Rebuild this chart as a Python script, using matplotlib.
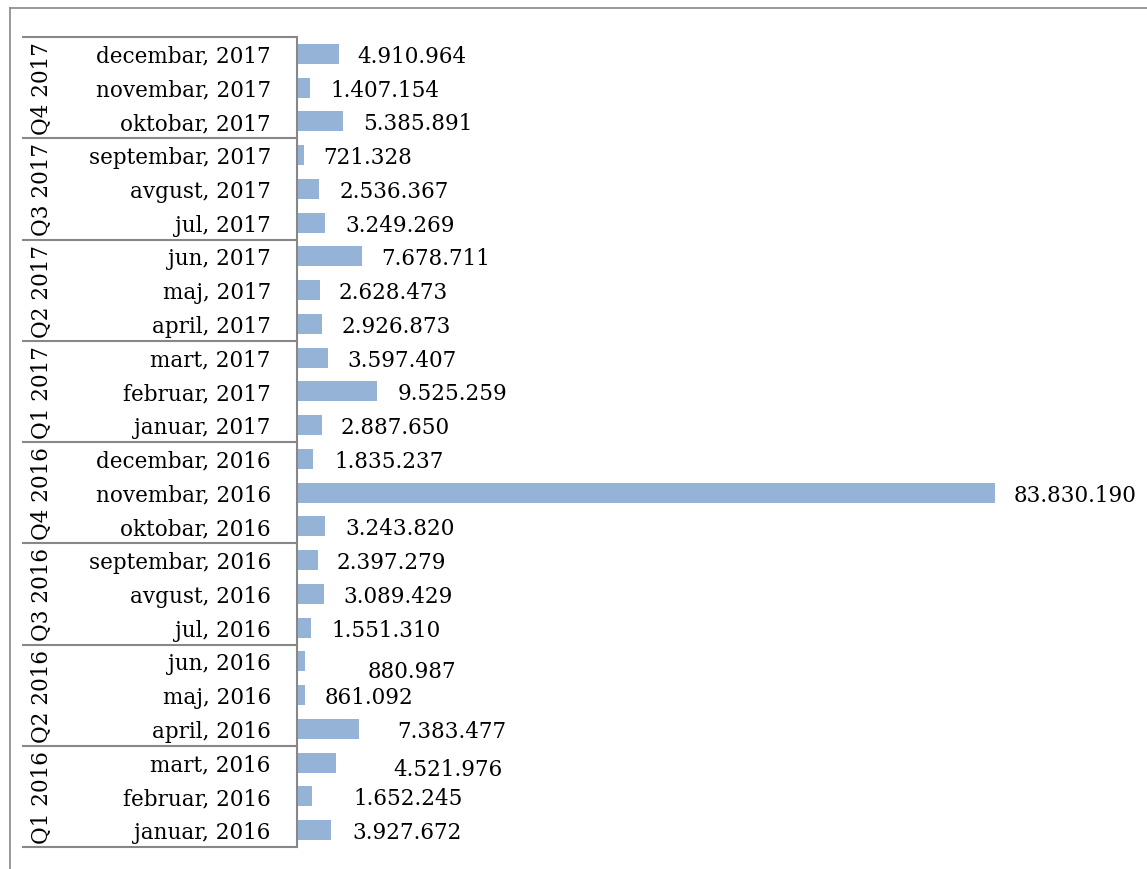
import matplotlib
matplotlib.use("Agg")
import matplotlib.pyplot as plt
from matplotlib.lines import Line2D
from matplotlib.transforms import ScaledTranslation

# data, chronological (bottom of chart = januar 2016)
months = ["januar", "februar", "mart", "april", "maj", "jun",
          "jul", "avgust", "septembar", "oktobar", "novembar", "decembar"]
years = [2016, 2017]
quarters = ["Q1 2016", "Q2 2016", "Q3 2016", "Q4 2016",
            "Q1 2017", "Q2 2017", "Q3 2017", "Q4 2017"]
values = [3927672, 1652245, 4521976, 7383477, 861092, 880987,
          1551310, 3089429, 2397279, 3243820, 83830190, 1835237,
          2887650, 9525259, 3597407, 2926873, 2628473, 7678711,
          3249269, 2536367, 721328, 5385891, 1407154, 4910964]

# label placement quirks copied from the original (pixels)
label_gap = [22, 42, 58, 38, 19, 62, 21, 20, 19, 20, 19, 21,
             19, 20, 19, 19, 19, 19, 20, 20, 19, 20, 21, 19]
label_dy = [0, 0, 4, 0, 0, 8, 0, 0, 0, 0, 0, 0,
            0, 0, 0, 0, 0, 0, 0, 0, 0, 0, 0, 0]

labels = [m + ", " + str(y) for y in years for m in months]

W, H = 1147, 870
bar_color = "#95b3d7"
line_color = "#878787"
font = "DejaVu Serif"
fs = 15.5

fig = plt.figure(figsize=(W / 100, H / 100), dpi=100)

top, bottom = 38, 848
n = len(values)

ax = fig.add_axes([298 / W, (H - bottom) / H, (W - 298) / W, (bottom - top) / H])
ax.set_xlim(0, max(values) * (W - 298) / (995 - 298))
ax.set_ylim(-0.5, n - 0.5)
ax.axis("off")
ax.barh(range(n), values, height=0.59, color=bar_color, left=0)

for i, v in enumerate(values):
    txt = f"{v:,}".replace(",", ".")
    ax.annotate(txt, xy=(v, i), xytext=(label_gap[i] * 0.72, -(label_dy[i] + 2) * 0.72),
                textcoords="offset points", ha="left", va="center",
                fontsize=fs, family=font, color="black", annotation_clip=False)

# category table on the left
tab = fig.add_axes([22 / W, (H - bottom) / H, (297 - 22) / W, (bottom - top) / H])
tab.set_xlim(0, 1)
tab.set_ylim(-0.5, n - 0.5)
tab.axis("off")

for k in range(len(quarters) + 1):
    y = -0.5 + 3 * k
    tab.plot([0, 1], [y, y], color=line_color, lw=1.5, clip_on=False, solid_capstyle="butt")
tab.plot([1, 1], [-0.5, n - 0.5], color=line_color, lw=1.5, clip_on=False)

down = tab.transData + ScaledTranslation(0, -2 / 100, fig.dpi_scale_trans)
for i, lab in enumerate(labels):
    tab.text(0.905, i, lab, ha="right", va="center", fontsize=fs, family=font,
             transform=down)

for q, name in enumerate(quarters):
    tab.text(0.073, 3 * q + 1, name, ha="center", va="center", rotation=90,
             fontsize=fs, family=font)

# outer chart-area border (clipped at right and bottom)
fig.add_artist(Line2D([10 / W, 10 / W], [0, (H - 9) / H], transform=fig.transFigure,
                      color=line_color, lw=1.2))
fig.add_artist(Line2D([10 / W, 1], [(H - 9) / H, (H - 9) / H], transform=fig.transFigure,
                      color=line_color, lw=1.2))

fig.savefig("out.png", dpi=100)
